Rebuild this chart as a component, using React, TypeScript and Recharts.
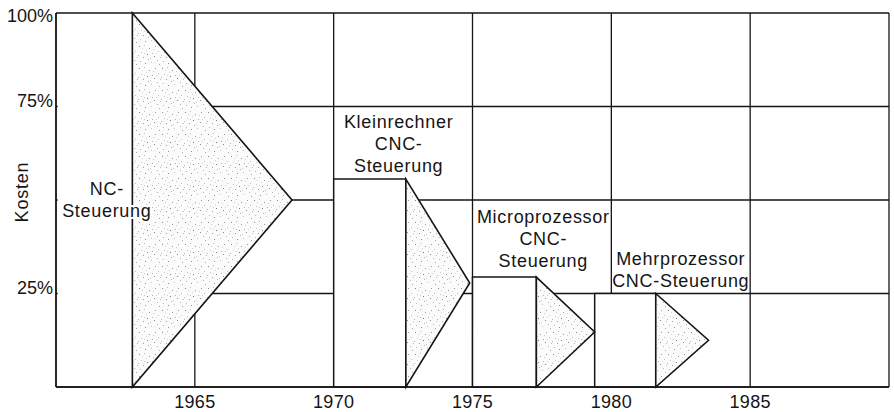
import React from 'react';
import { ComposedChart, XAxis, YAxis, CartesianGrid, ReferenceArea, ReferenceDot } from 'recharts';

// ---- data ----
const xGridTicks = [1960, 1965, 1970, 1975, 1980, 1985, 1990];
const xLabelTicks = [1965, 1970, 1975, 1980, 1985];
const yGridTicks = [0, 25, 50, 75, 100];
const yLabelTicks = [25, 75, 100];

const phaseLabels = [
  ['NC-', 'Steuerung'],
  ['Kleinrechner', 'CNC-', 'Steuerung'],
  ['Microprozessor', 'CNC-', 'Steuerung'],
  ['Mehrprozessor', 'CNC-Steuerung'],
];
const devStartYear = [null, 1970, 1975, 1979.4];
const introYear = [1962.75, 1972.6, 1977.3, 1981.6];
const endYear = [1968.5, 1974.9, 1979.4, 1983.5];
const introCost = [100, 55.6, 29.4, 25];
const labelYear = [1961.83, 1972.34, 1977.55, 1982.5];
const labelCost = [51.3, 69.3, 43.9, 32.6];

const rows = introYear.map((y, i) => ({ year: y, cost: introCost[i] }));

const FONT = '"Liberation Sans", Arial, Helvetica, sans-serif';
const INK = '#151515';

// stipple texture (style only)
const stippleDots: [number, number, string][] = [
  [1, 2, '#8a8a8a'], [6, 1, '#bdbdbd'], [11, 4, '#9a9a9a'], [3, 8, '#c4c4c4'],
  [9, 10, '#7a7a7a'], [14, 9, '#b0b0b0'], [5, 13, '#a0a0a0'], [12, 14, '#c8c8c8'],
  [0, 11, '#b8b8b8'], [8, 6, '#d0d0d0'], [17, 2, '#999999'], [20, 7, '#c0c0c0'],
  [16, 12, '#8c8c8c'], [19, 16, '#b4b4b4'], [2, 17, '#bcbcbc'], [7, 19, '#909090'],
  [13, 18, '#c6c6c6'], [21, 20, '#a8a8a8'], [15, 5, '#cccccc'], [4, 4, '#d4d4d4'],
  [10, 15, '#b2b2b2'], [18, 9, '#d2d2d2'], [6, 9, '#cacaca'], [22, 13, '#bababa'],
];

const Triangle = (p: any) => {
  const { x, y, width, height } = p;
  if (x == null || y == null) return null;
  return (
    <path
      d={`M${x},${y} L${x + width},${y + height / 2} L${x},${y + height} Z`}
      fill="url(#stipple)"
      stroke={INK}
      strokeWidth={1.6}
      strokeLinejoin="miter"
    />
  );
};

const MultiLabel = (props: any) => {
  const { viewBox, lines, halo } = props;
  if (!viewBox) return null;
  const cx = viewBox.x + (viewBox.width || 0) / 2;
  const cy = viewBox.y + (viewBox.height || 0) / 2;
  return (
    <text
      x={cx}
      y={cy}
      textAnchor="middle"
      fontFamily={FONT}
      fontSize={18}
      letterSpacing={0.7}
      fill={INK}
      stroke={halo ? '#fff' : 'none'}
      strokeWidth={halo ? 4 : 0}
      style={{ paintOrder: 'stroke' } as any}
    >
      {lines.map((l: string, i: number) => (
        <tspan key={i} x={cx} dy={i === 0 ? 0 : 22}>
          {l}
        </tspan>
      ))}
    </text>
  );
};

const XTick = (props: any) => {
  const { x, y, payload } = props;
  if (!xLabelTicks.includes(payload.value)) return null;
  return (
    <text x={x} y={y} dy="0.71em" textAnchor="middle" fontFamily={FONT} fontSize={18} fill={INK} letterSpacing={0.3}>
      {payload.value}
    </text>
  );
};

const YTick = (props: any) => {
  const { x, y, payload } = props;
  if (!yLabelTicks.includes(payload.value)) return null;
  const shift = payload.value === 100 ? 3 : -6;
  return (
    <text x={x} y={y + shift} dy="0.355em" textAnchor="end" fontFamily={FONT} fontSize={18} fill={INK}>
      {payload.value}%
    </text>
  );
};

const KostenLabel = (props: any) => {
  const { viewBox } = props;
  if (!viewBox) return null;
  const x = viewBox.x + 22;
  const y = viewBox.y + viewBox.height / 2 - 8;
  return (
    <text
      x={x}
      y={y}
      transform={`rotate(-90, ${x}, ${y})`}
      textAnchor="middle"
      dominantBaseline="central"
      fontFamily={FONT}
      fontSize={18}
      letterSpacing={0.8}
      fill={INK}
    >
      Kosten
    </text>
  );
};

export default function App() {
  return (
    <div style={{ position: 'absolute', left: 0, top: 0, width: 894, height: 412, background: '#fff' }}>
      <ComposedChart width={894} height={412} data={rows} margin={{ top: 13, right: 5, bottom: 0, left: 0 }}>
        <defs>
          <pattern id="stipple" width="23" height="22" patternUnits="userSpaceOnUse">
            <rect width="23" height="22" fill="#fbfbfb" />
            {stippleDots.map(([dx, dy, c], i) => (
              <rect key={i} x={dx} y={dy} width="1" height="1" fill={c} />
            ))}
          </pattern>
        </defs>
        <CartesianGrid stroke={INK} strokeWidth={1.3} />
        <XAxis
          type="number"
          dataKey="year"
          domain={[1960, 1990]}
          ticks={xGridTicks}
          interval={0}
          height={25}
          tickSize={0}
          tickMargin={8}
          tickLine={false}
          axisLine={{ stroke: INK, strokeWidth: 1.5 }}
          tick={<XTick />}
          allowDataOverflow
        />
        <YAxis
          type="number"
          dataKey="cost"
          domain={[0, 100]}
          ticks={yGridTicks}
          interval={0}
          width={56}
          tickSize={0}
          tickMargin={3}
          tickLine={false}
          axisLine={{ stroke: INK, strokeWidth: 1.5 }}
          tick={<YTick />}
          label={<KostenLabel />}
          allowDataOverflow
        />
        {/* the first column carries no horizontal grid lines */}
        <ReferenceArea x1={1960.06} x2={introYear[0]} y1={0.35} y2={99.65} fill="#fff" fillOpacity={1} stroke="none" />
        {devStartYear.map((s, i) =>
          s == null ? null : (
            <ReferenceArea
              key={`r${i}`}
              x1={s}
              x2={introYear[i]}
              y1={0}
              y2={introCost[i]}
              fill="#fff"
              fillOpacity={1}
              stroke={INK}
              strokeWidth={1.5}
            />
          )
        )}
        {introYear.map((s, i) => (
          <ReferenceArea key={`t${i}`} x1={s} x2={endYear[i]} y1={0} y2={introCost[i]} shape={Triangle} />
        ))}
        {phaseLabels.map((lines, i) => (
          <ReferenceDot
            key={`l${i}`}
            x={labelYear[i]}
            y={labelCost[i]}
            r={0}
            fill="none"
            stroke="none"
            label={<MultiLabel lines={lines} halo={i === 0} />}
          />
        ))}
      </ComposedChart>
    </div>
  );
}
